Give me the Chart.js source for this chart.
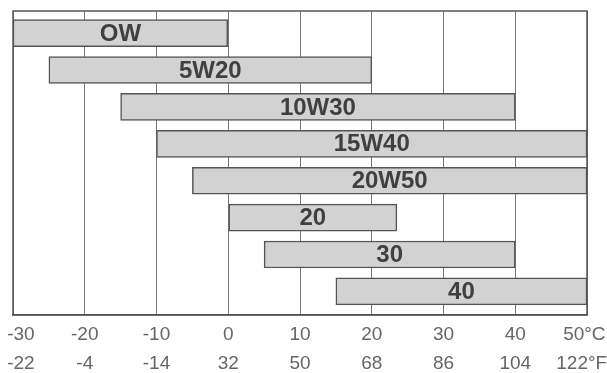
<!DOCTYPE html>
<html>
<head>
    <title>Oil Viscosity Temperature Ranges</title>
    <script src="https://cdn.jsdelivr.net/npm/chart.js"></script>
    <style>
        html, body {
            margin: 0;
            padding: 0;
            background-color: #ffffff;
        }
        .chart-container {
            width: 607px;
            height: 373px;
        }
    </style>
</head>
<body>
    <div class="chart-container">
        <canvas id="oilChart"></canvas>
    </div>

    <script>
        // Oil grades and their usable temperature range (°C)
        const grades = ['OW', '5W20', '10W30', '15W40', '20W50', '20', '30', '40'];
        const rangeStart = [-30, -25, -15, -10, -5, 0, 5, 15];
        const rangeEnd = [0, 20, 40, 50, 50, 23.5, 40, 50];

        // Axis tick labels (Celsius row on top, Fahrenheit row below)
        const celsiusTicks = ['-30', '-20', '-10', '0', '10', '20', '30', '40', '50°C'];
        const fahrenheitTicks = ['-22', '-4', '-14', '32', '50', '68', '86', '104', '122°F'];

        const FONT = "'Liberation Sans', Arial, Helvetica, sans-serif";

        // nudge the outermost labels so they stay inside the canvas
        function tickText(i) {
            let c = celsiusTicks[i], f = fahrenheitTicks[i];
            if (i === 0) {
                c = '   ' + c;
                f = '   ' + f;
            } else if (i === celsiusTicks.length - 1) {
                c = c + ' ';
                f = f + '  ';
            }
            return [c, f];
        }

        // Outline round the plot area
        const frame = {
            id: 'frame',
            afterDraw(chart) {
                const { ctx, chartArea: a } = chart;
                ctx.save();
                ctx.strokeStyle = '#555';
                ctx.lineWidth = 1.5;
                ctx.strokeRect(a.left, a.top, a.right - a.left, a.bottom - a.top);
                ctx.restore();
            }
        };

        // Grade names centred inside each bar
        const barLabels = {
            id: 'barLabels',
            afterDatasetsDraw(chart) {
                const { ctx } = chart;
                const meta = chart.getDatasetMeta(0);
                ctx.save();
                ctx.font = "bold 24px " + FONT;
                ctx.fillStyle = '#404040';
                ctx.textAlign = 'center';
                ctx.textBaseline = 'middle';
                meta.data.forEach((bar, i) => {
                    const cx = (bar.x + bar.base) / 2;
                    ctx.fillText(grades[i], cx, bar.y + 1);
                });
                ctx.restore();
            }
        };

        const ctx = document.getElementById('oilChart').getContext('2d');

        new Chart(ctx, {
            type: 'bar',
            data: {
                datasets: [{
                    data: grades.map((g, i) => ({ x: [rangeStart[i], rangeEnd[i]], y: i })),
                    backgroundColor: '#d2d2d2',
                    borderColor: '#555',
                    borderWidth: 1.5,
                    borderSkipped: false,
                    barThickness: 27
                }]
            },
            options: {
                indexAxis: 'y',
                responsive: true,
                maintainAspectRatio: false,
                animation: false,
                layout: {
                    padding: { top: 11, left: 0, right: 0, bottom: 0 }
                },
                plugins: {
                    legend: { display: false },
                    tooltip: { enabled: false }
                },
                scales: {
                    x: {
                        type: 'linear',
                        min: -30,
                        max: 50,
                        afterFit(scale) {
                            scale.height = 58;
                            scale.paddingLeft = 13;
                            scale.paddingRight = 20;
                        },
                        ticks: {
                            stepSize: 10,
                            padding: 6,
                            color: '#666',
                            font: { size: 19, family: FONT, lineHeight: 1.5 },
                            maxRotation: 0,
                            callback: (v, i) => tickText(i)
                        },
                        grid: {
                            color: '#777',
                            lineWidth: 1,
                            drawTicks: false
                        },
                        border: { color: '#555', width: 1.5 }
                    },
                    y: {
                        type: 'linear',
                        display: false,
                        offset: false,
                        reverse: true,
                        min: -0.6,
                        max: 7.64
                    }
                }
            },
            plugins: [frame, barLabels]
        });
    </script>
</body>
</html>
